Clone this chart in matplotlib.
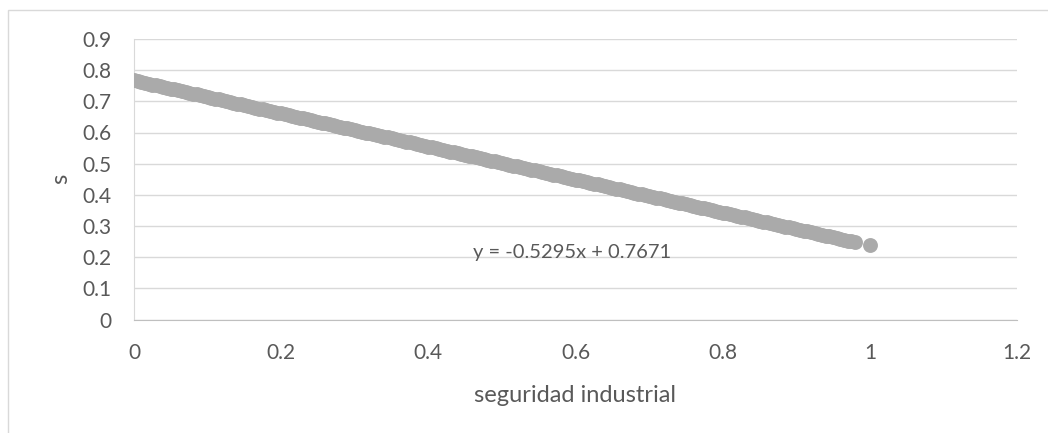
import matplotlib
matplotlib.use("Agg")
import matplotlib.pyplot as plt
from matplotlib.patches import Rectangle

# seguridad industrial vs s
x_vals = [
    0.000, 0.005, 0.010, 0.015, 0.020, 0.025, 0.030, 0.035, 0.040, 0.045,
    0.050, 0.055, 0.060, 0.065, 0.070, 0.075, 0.080, 0.085, 0.090, 0.095,
    0.100, 0.105, 0.110, 0.115, 0.120, 0.125, 0.130, 0.135, 0.140, 0.145,
    0.150, 0.155, 0.160, 0.165, 0.170, 0.175, 0.180, 0.185, 0.190, 0.195,
    0.200, 0.205, 0.210, 0.215, 0.220, 0.225, 0.230, 0.235, 0.240, 0.245,
    0.250, 0.255, 0.260, 0.265, 0.270, 0.275, 0.280, 0.285, 0.290, 0.295,
    0.300, 0.305, 0.310, 0.315, 0.320, 0.325, 0.330, 0.335, 0.340, 0.345,
    0.350, 0.355, 0.360, 0.365, 0.370, 0.375, 0.380, 0.385, 0.390, 0.395,
    0.400, 0.405, 0.410, 0.415, 0.420, 0.425, 0.430, 0.435, 0.440, 0.445,
    0.450, 0.455, 0.460, 0.465, 0.470, 0.475, 0.480, 0.485, 0.490, 0.495,
    0.500, 0.505, 0.510, 0.515, 0.520, 0.525, 0.530, 0.535, 0.540, 0.545,
    0.550, 0.555, 0.560, 0.565, 0.570, 0.575, 0.580, 0.585, 0.590, 0.595,
    0.600, 0.605, 0.610, 0.615, 0.620, 0.625, 0.630, 0.635, 0.640, 0.645,
    0.650, 0.655, 0.660, 0.665, 0.670, 0.675, 0.680, 0.685, 0.690, 0.695,
    0.700, 0.705, 0.710, 0.715, 0.720, 0.725, 0.730, 0.735, 0.740, 0.745,
    0.750, 0.755, 0.760, 0.765, 0.770, 0.775, 0.780, 0.785, 0.790, 0.795,
    0.800, 0.805, 0.810, 0.815, 0.820, 0.825, 0.830, 0.835, 0.840, 0.845,
    0.850, 0.855, 0.860, 0.865, 0.870, 0.875, 0.880, 0.885, 0.890, 0.895,
    0.900, 0.905, 0.910, 0.915, 0.920, 0.925, 0.930, 0.935, 0.940, 0.945,
    0.950, 0.955, 0.960, 0.965, 0.970, 0.975, 0.980, 1.000,
]
s_vals = [
    0.767, 0.764, 0.762, 0.759, 0.757, 0.754, 0.751, 0.749, 0.746, 0.743,
    0.741, 0.738, 0.735, 0.733, 0.730, 0.727, 0.725, 0.722, 0.719, 0.717,
    0.714, 0.712, 0.709, 0.706, 0.704, 0.701, 0.698, 0.696, 0.693, 0.690,
    0.688, 0.685, 0.682, 0.680, 0.677, 0.674, 0.672, 0.669, 0.666, 0.664,
    0.661, 0.659, 0.656, 0.653, 0.651, 0.648, 0.645, 0.643, 0.640, 0.637,
    0.635, 0.632, 0.629, 0.627, 0.624, 0.621, 0.619, 0.616, 0.614, 0.611,
    0.608, 0.606, 0.603, 0.600, 0.598, 0.595, 0.592, 0.590, 0.587, 0.584,
    0.582, 0.579, 0.576, 0.574, 0.571, 0.569, 0.566, 0.563, 0.561, 0.558,
    0.555, 0.553, 0.550, 0.547, 0.545, 0.542, 0.539, 0.537, 0.534, 0.531,
    0.529, 0.526, 0.524, 0.521, 0.518, 0.516, 0.513, 0.510, 0.508, 0.505,
    0.502, 0.500, 0.497, 0.494, 0.492, 0.489, 0.486, 0.484, 0.481, 0.479,
    0.476, 0.473, 0.471, 0.468, 0.465, 0.463, 0.460, 0.457, 0.455, 0.452,
    0.449, 0.447, 0.444, 0.441, 0.439, 0.436, 0.434, 0.431, 0.428, 0.426,
    0.423, 0.420, 0.418, 0.415, 0.412, 0.410, 0.407, 0.404, 0.402, 0.399,
    0.396, 0.394, 0.391, 0.389, 0.386, 0.383, 0.381, 0.378, 0.375, 0.373,
    0.370, 0.367, 0.365, 0.362, 0.359, 0.357, 0.354, 0.351, 0.349, 0.346,
    0.343, 0.341, 0.338, 0.336, 0.333, 0.330, 0.328, 0.325, 0.322, 0.320,
    0.317, 0.314, 0.312, 0.309, 0.306, 0.304, 0.301, 0.298, 0.296, 0.293,
    0.291, 0.288, 0.285, 0.283, 0.280, 0.277, 0.275, 0.272, 0.269, 0.267,
    0.264, 0.261, 0.259, 0.256, 0.253, 0.251, 0.248, 0.238,
]
x_ticks = [0, 0.2, 0.4, 0.6, 0.8, 1.0, 1.2]
x_tick_labels = ["0", "0.2", "0.4", "0.6", "0.8", "1", "1.2"]
y_ticks = [0, 0.1, 0.2, 0.3, 0.4, 0.5, 0.6, 0.7, 0.8, 0.9]
y_tick_labels = ["0", "0.1", "0.2", "0.3", "0.4", "0.5", "0.6", "0.7", "0.8", "0.9"]
trend_label = "y = -0.5295x + 0.7671"

text_color = "#595959"
plt.rcParams["font.family"] = ["Lato", "DejaVu Sans"]

W, H = 1048, 433
fig = plt.figure(figsize=(W / 100, H / 100), dpi=100)
fig.patch.set_facecolor("white")

# chart area border (runs off the right and bottom edges)
fig.patches.append(Rectangle((7.5 / W, -0.1), 1.2, 1 - 10 / H + 0.1,
                             transform=fig.transFigure, fill=False,
                             edgecolor="#d9d9d9", linewidth=1.0))

ax = fig.add_axes([134 / W, 1 - 319.5 / H, (1017 - 134) / W, (319.5 - 39) / H])
ax.set_xlim(0, 1.2)
ax.set_ylim(0, 0.9)

ax.scatter(x_vals, s_vals, s=115, color="#aaaaaa", linewidths=0, zorder=3)

ax.set_xticks(x_ticks)
ax.set_xticklabels(x_tick_labels)
ax.set_yticks(y_ticks)
ax.set_yticklabels(y_tick_labels)
ax.tick_params(axis="both", length=0, labelsize=15, colors=text_color)
ax.tick_params(axis="x", pad=17)
ax.tick_params(axis="y", pad=16)

ax.grid(axis="y", color="#d9d9d9", linewidth=1.0)
ax.set_axisbelow(True)
for side in ["top", "right"]:
    ax.spines[side].set_visible(False)
ax.spines["left"].set_color("#d9d9d9")
ax.spines["bottom"].set_color("#bfbfbf")

ax.set_xlabel("seguridad industrial", fontsize=17, color=text_color, labelpad=16)
ax.set_ylabel("s", fontsize=17, color=text_color, labelpad=8)

ax.text(0.595, 0.197, trend_label, fontsize=14.5, color=text_color,
        ha="center", va="baseline", zorder=4)

fig.savefig("out.png", dpi=100)
